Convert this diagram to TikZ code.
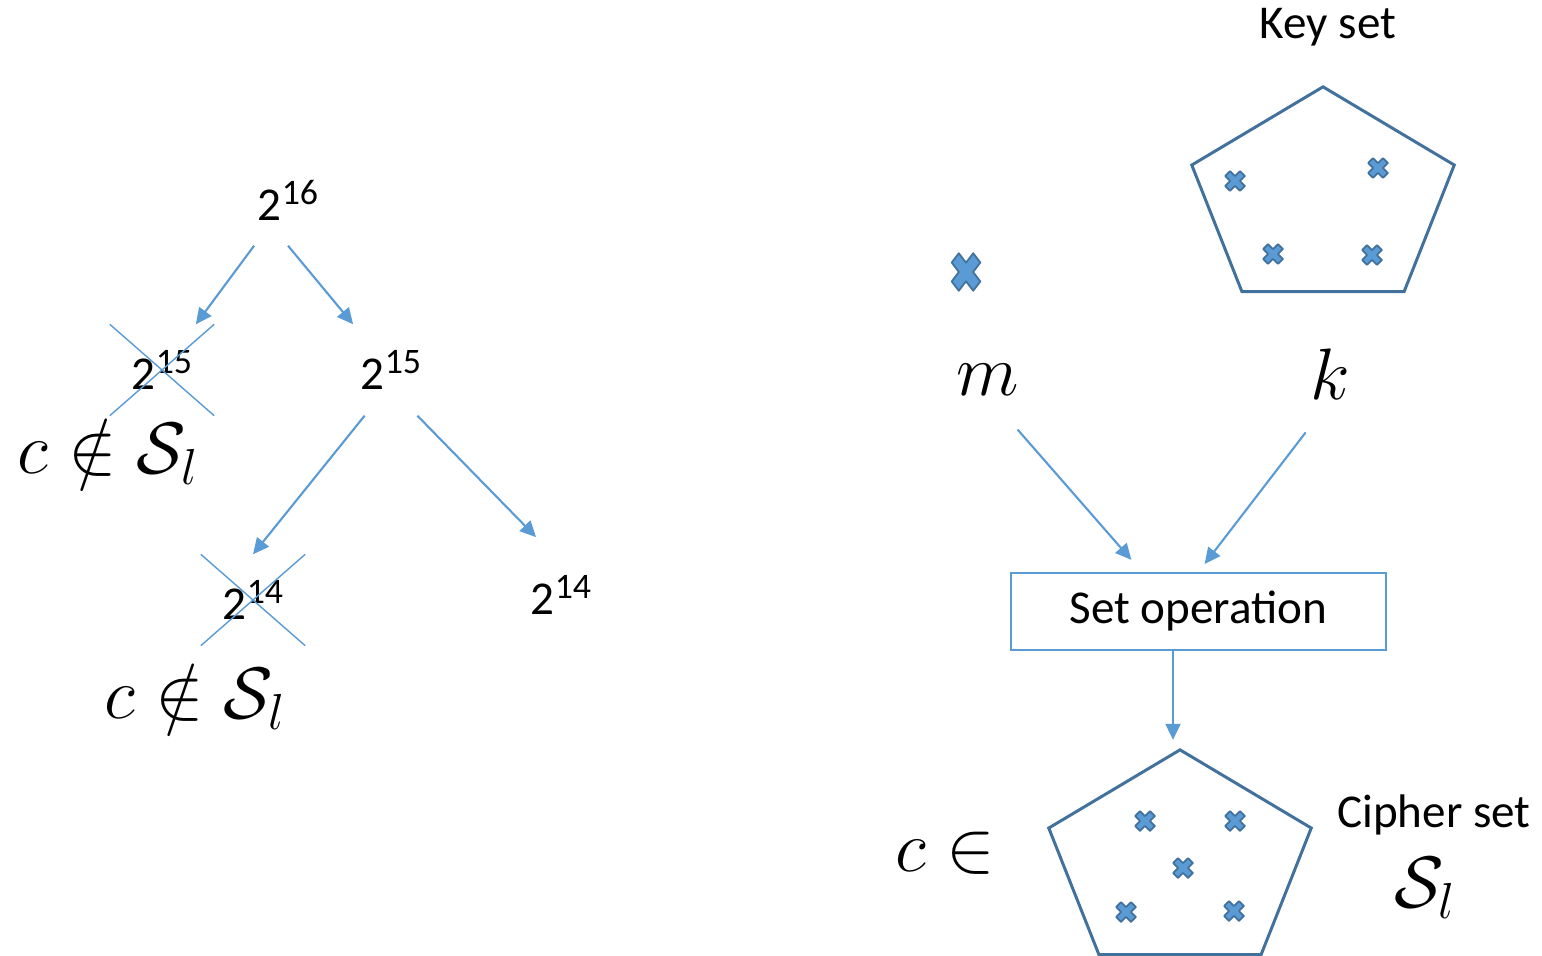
\documentclass[tikz,border=0pt]{standalone}
\usepackage{fontspec}
\setmainfont{Carlito}
\usepackage{amsmath}
\usepackage{amssymb}
\usetikzlibrary{positioning}
\usetikzlibrary{calc}
\usetikzlibrary{arrows.meta}
\usetikzlibrary{shapes.misc}
\usetikzlibrary{shapes.geometric}
\definecolor{lblue}{RGB}{91,155,213}
\definecolor{dblue}{RGB}{65,113,156}

% power of two with a large raised exponent
\newcommand{\twopow}[1]{2\raisebox{4.6pt}{\fontsize{10.2}{12}\selectfont #1}}

\begin{document}
\begin{tikzpicture}[
    num/.style={font=\fontsize{13.4}{16}\selectfont, minimum width=1.03cm, minimum height=0.9cm, inner sep=0pt},
    crossed/.style={num, cross out, draw=lblue, line width=0.4pt},
    big/.style={font=\fontsize{20}{24}\selectfont, inner sep=0pt},
    lbl/.style={font=\fontsize{13.4}{16}\selectfont, inner sep=0pt},
    arr/.style={-{Triangle[length=0.16cm, width=0.15cm]}, draw=lblue, line width=0.6pt},
    pent/.style={regular polygon, regular polygon sides=5, minimum size=2.76cm, yscale=0.82,
        draw=dblue, line width=0.85pt, inner sep=0pt, outer sep=0pt},
    xmark/.pic={
        \filldraw[fill=lblue, draw=dblue, line width=0.5pt, line join=round, rotate=45, scale=0.105]
            (-0.33,1) -- (0.33,1) -- (0.33,0.33) -- (1,0.33) -- (1,-0.33) -- (0.33,-0.33)
            -- (0.33,-1) -- (-0.33,-1) -- (-0.33,-0.33) -- (-1,-0.33) -- (-1,0.33) -- (-0.33,0.33) -- cycle;
    }
]
    \useasboundingbox (0,0) rectangle (15.42,-9.56);

    % halving tree
    \node[num] (p16) at (2.88,-2.00) {\twopow{16}};
    \node[crossed] (x15) at (1.62,-3.70) {\twopow{15}};
    \node[num] (p15) at (3.91,-3.70) {\twopow{15}};
    \node[crossed] (x14) at (2.53,-6.00) {\twopow{14}};
    \node[num] (p14) at (5.61,-5.95) {\twopow{14}};
    \node[big] (out15) at (1.08,-4.52) {$c \notin \mathcal{S}_l$};
    \node[big] (out14) at (1.95,-6.97) {$c \notin \mathcal{S}_l$};

    \draw[arr] (p16) -- (x15);
    \draw[arr] (p16.south) -- (p15);
    \draw[arr] (p15.240) -- (x14.north);
    \draw[arr, shorten >=0.17cm] (p15.300) -- ($(p14.north west)!0.75!(p14.north)$);

    % key set and message
    \node[pent] (kset) at (13.23,-2.00) {};
    \node[lbl, above=0.4cm of kset, xshift=0.05cm] (keytxt) {Key set};
    \foreach \dx/\dy in {-0.88/0.19, 0.55/0.32, -0.50/-0.54, 0.49/-0.55}
        \pic at ($(kset)+(\dx,\dy)$) {xmark};
    \pic[xscale=1.45, yscale=1.9] at (9.66,-2.72) {xmark};

    \node[big, anchor=base] (m) at (9.88,-3.95) {$m$};
    \node[big, anchor=base] (k) at (13.30,-4.00) {$k$};

    \node[lbl, draw=lblue, line width=0.6pt, minimum width=3.75cm, minimum height=0.77cm] (op) at (11.985,-6.115) {Set operation};

    \draw[arr, shorten <=0.45cm, shorten >=0.16cm] (m.south) -- ($(op.north west)!0.7!(op.north)$);
    \draw[arr, shorten <=0.4cm, shorten >=0.1cm] (k.south) -- (op.north);

    % cipher set
    \node[pent] (cset) at (11.80,-8.63) {};
    \foreach \dx/\dy in {-0.35/0.42, 0.55/0.42, 0.03/-0.05, -0.54/-0.49, 0.54/-0.48}
        \pic at ($(cset)+(\dx,\dy)$) {xmark};
    \draw[arr, shorten >=0.1cm] ([xshift=-0.07cm]op.south -| cset.corner 1) -- ([xshift=-0.07cm]cset.corner 1);

    \node[big] (cin) at (9.45,-8.53) {$c \in$};
    \node[lbl] (ciptxt) at (14.34,-8.15) {Cipher set};
    \node[big] (sl) at (14.25,-8.88) {$\mathcal{S}_l$};
\end{tikzpicture}
\end{document}
